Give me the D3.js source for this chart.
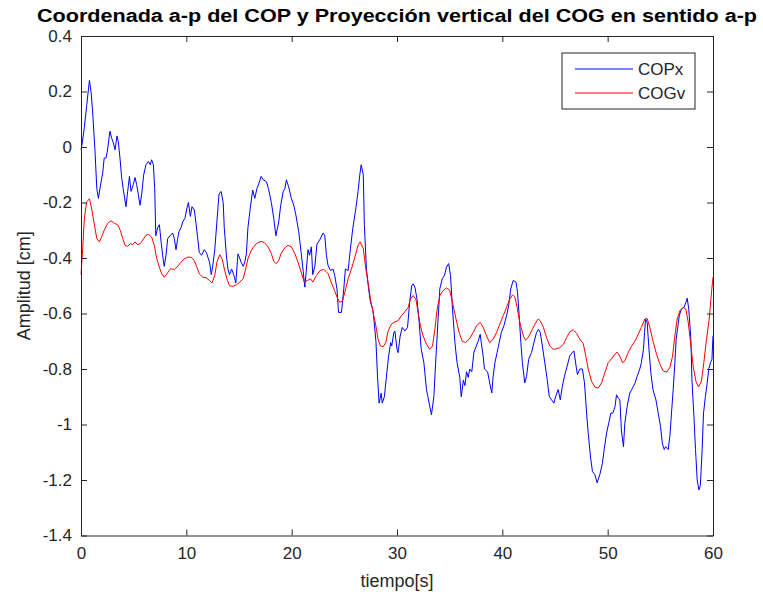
<!DOCTYPE html>
<html>
<head>
<meta charset="utf-8">
<script src="https://cdn.jsdelivr.net/npm/d3@7"></script>
<style>
  body { margin: 0; background: #fff; }
  svg { display: block; font-family: "Liberation Sans", Arial, Helvetica, sans-serif; }
</style>
</head>
<body>
<div id="chart"></div>
<script>
// COPx (blue), [tiempo, amplitud]
var copx = [[0,-0.01],[0.06,0.0],[0.32,0.07],[0.54,0.15],[0.8,0.24],[0.95,0.2],[1.1,0.13],[1.33,-0.015],[1.5,-0.15],[1.65,-0.185],[1.84,-0.14],[2.06,-0.094],[2.2,-0.04],[2.37,-0.04],[2.5,-0.015],[2.75,0.057],[2.9,0.033],[3.07,0.015],[3.23,-0.01],[3.42,0.04],[3.54,0.02],[3.7,-0.04],[3.86,-0.11],[4.0,-0.15],[4.27,-0.215],[4.43,-0.16],[4.6,-0.106],[4.75,-0.16],[4.97,-0.135],[5.13,-0.11],[5.28,-0.135],[5.44,-0.17],[5.6,-0.21],[5.76,-0.17],[5.95,-0.1],[6.17,-0.064],[6.4,-0.052],[6.58,-0.064],[6.7,-0.046],[6.87,-0.064],[7.0,-0.15],[7.1,-0.32],[7.28,-0.29],[7.44,-0.28],[7.6,-0.34],[7.75,-0.39],[7.9,-0.43],[8.07,-0.39],[8.23,-0.33],[8.45,-0.32],[8.7,-0.31],[8.86,-0.33],[9.02,-0.37],[9.18,-0.33],[9.3,-0.305],[9.5,-0.29],[9.65,-0.27],[9.87,-0.257],[10.06,-0.22],[10.2,-0.2],[10.38,-0.25],[10.54,-0.215],[10.76,-0.227],[10.9,-0.27],[11.08,-0.33],[11.23,-0.38],[11.45,-0.39],[11.7,-0.37],[11.9,-0.38],[12.2,-0.415],[12.37,-0.46],[12.5,-0.43],[12.7,-0.37],[12.9,-0.27],[13.1,-0.17],[13.3,-0.16],[13.5,-0.2],[13.6,-0.29],[13.8,-0.39],[13.95,-0.44],[14.1,-0.46],[14.3,-0.44],[14.5,-0.46],[14.7,-0.49],[14.9,-0.385],[15.06,-0.4],[15.2,-0.415],[15.4,-0.43],[15.55,-0.415],[15.7,-0.385],[15.85,-0.29],[16.07,-0.22],[16.3,-0.155],[16.5,-0.185],[16.7,-0.15],[16.9,-0.13],[17.1,-0.106],[17.3,-0.118],[17.6,-0.125],[17.8,-0.15],[18.07,-0.2],[18.3,-0.257],[18.5,-0.32],[18.77,-0.27],[18.96,-0.21],[19.2,-0.16],[19.35,-0.15],[19.5,-0.118],[19.7,-0.142],[19.97,-0.185],[20.2,-0.21],[20.4,-0.245],[20.67,-0.305],[20.9,-0.38],[21.1,-0.45],[21.25,-0.505],[21.4,-0.44],[21.55,-0.37],[21.7,-0.39],[21.87,-0.36],[22.0,-0.46],[22.2,-0.43],[22.4,-0.35],[22.66,-0.335],[22.98,-0.31],[23.14,-0.318],[23.3,-0.39],[23.45,-0.426],[23.68,-0.445],[23.93,-0.44],[24.09,-0.463],[24.3,-0.511],[24.45,-0.596],[24.73,-0.596],[24.95,-0.51],[25.1,-0.44],[25.36,-0.445],[25.58,-0.366],[25.8,-0.294],[26.1,-0.22],[26.3,-0.16],[26.47,-0.1],[26.6,-0.064],[26.8,-0.1],[26.9,-0.28],[27.1,-0.44],[27.3,-0.51],[27.48,-0.56],[27.7,-0.584],[27.83,-0.63],[28.0,-0.7],[28.15,-0.826],[28.3,-0.923],[28.5,-0.887],[28.6,-0.923],[28.8,-0.9],[29.0,-0.826],[29.2,-0.754],[29.4,-0.705],[29.5,-0.717],[29.7,-0.669],[29.8,-0.663],[30.0,-0.729],[30.1,-0.741],[30.3,-0.681],[30.5,-0.65],[30.75,-0.663],[31.0,-0.65],[31.2,-0.56],[31.4,-0.5],[31.53,-0.493],[31.7,-0.505],[31.9,-0.548],[32.1,-0.63],[32.3,-0.729],[32.55,-0.777],[32.8,-0.874],[33.05,-0.923],[33.27,-0.965],[33.5,-0.9],[33.7,-0.754],[33.9,-0.62],[34.07,-0.51],[34.3,-0.475],[34.5,-0.463],[34.7,-0.433],[34.9,-0.42],[35.08,-0.463],[35.27,-0.584],[35.5,-0.705],[35.7,-0.777],[35.96,-0.83],[36.1,-0.9],[36.3,-0.84],[36.45,-0.86],[36.6,-0.81],[36.76,-0.83],[36.9,-0.8],[37.1,-0.81],[37.3,-0.74],[37.5,-0.72],[37.7,-0.7],[37.9,-0.675],[38.0,-0.705],[38.18,-0.753],[38.3,-0.8],[38.6,-0.81],[38.8,-0.85],[39.0,-0.886],[39.13,-0.826],[39.3,-0.777],[39.5,-0.741],[39.7,-0.705],[39.9,-0.669],[40.15,-0.644],[40.4,-0.608],[40.6,-0.572],[40.8,-0.511],[41.03,-0.481],[41.3,-0.487],[41.44,-0.523],[41.6,-0.608],[41.76,-0.705],[41.9,-0.777],[42.13,-0.85],[42.3,-0.826],[42.5,-0.765],[42.77,-0.741],[43.0,-0.705],[43.24,-0.669],[43.43,-0.657],[43.6,-0.669],[43.8,-0.717],[44.03,-0.777],[44.26,-0.838],[44.45,-0.898],[44.67,-0.911],[44.9,-0.923],[45.07,-0.898],[45.3,-0.874],[45.5,-0.911],[45.7,-0.862],[45.9,-0.826],[46.16,-0.789],[46.4,-0.753],[46.63,-0.741],[46.8,-0.735],[47.0,-0.789],[47.13,-0.82],[47.36,-0.8],[47.6,-0.8],[47.8,-0.85],[48.0,-0.959],[48.15,-1.03],[48.38,-1.12],[48.56,-1.17],[48.78,-1.18],[49.0,-1.21],[49.26,-1.18],[49.5,-1.14],[49.67,-1.09],[49.9,-1.03],[50.1,-0.995],[50.3,-0.959],[50.5,-0.959],[50.7,-0.935],[50.84,-0.893],[51.0,-0.905],[51.16,-0.911],[51.3,-1.02],[51.5,-1.08],[51.63,-0.995],[51.85,-0.935],[52.1,-0.887],[52.36,-0.869],[52.6,-0.85],[52.8,-0.826],[53.05,-0.8],[53.2,-0.777],[53.4,-0.729],[53.5,-0.669],[53.6,-0.62],[53.75,-0.632],[53.9,-0.717],[54.1,-0.814],[54.3,-0.874],[54.58,-0.911],[54.8,-0.959],[55.02,-1.008],[55.2,-1.07],[55.37,-1.09],[55.5,-1.08],[55.75,-1.09],[55.9,-1.044],[56.06,-0.959],[56.22,-0.874],[56.38,-0.777],[56.5,-0.693],[56.8,-0.608],[57.0,-0.584],[57.24,-0.578],[57.43,-0.56],[57.55,-0.545],[57.7,-0.584],[57.9,-0.693],[58.0,-0.838],[58.19,-0.97],[58.34,-1.09],[58.5,-1.2],[58.66,-1.236],[58.8,-1.22],[58.97,-1.09],[59.1,-0.959],[59.28,-0.899],[59.45,-0.85],[59.6,-0.8],[59.76,-0.777],[59.9,-0.765],[60.0,-0.68]];

// COGv (red)
var cogv = [[0,-0.46],[0.16,-0.366],[0.32,-0.257],[0.54,-0.197],[0.8,-0.187],[1.0,-0.22],[1.27,-0.28],[1.5,-0.33],[1.74,-0.342],[1.96,-0.324],[2.2,-0.3],[2.53,-0.275],[2.85,-0.266],[3.16,-0.275],[3.48,-0.28],[3.73,-0.3],[3.96,-0.33],[4.18,-0.354],[4.43,-0.358],[4.68,-0.348],[4.9,-0.352],[5.13,-0.342],[5.38,-0.352],[5.63,-0.348],[5.85,-0.336],[6.17,-0.318],[6.42,-0.315],[6.7,-0.324],[6.96,-0.354],[7.18,-0.4],[7.44,-0.433],[7.66,-0.457],[7.9,-0.469],[8.16,-0.457],[8.48,-0.439],[8.86,-0.441],[9.18,-0.43],[9.5,-0.415],[9.8,-0.403],[10.13,-0.397],[10.44,-0.397],[10.76,-0.409],[11.0,-0.433],[11.23,-0.457],[11.55,-0.469],[11.87,-0.471],[12.2,-0.481],[12.43,-0.49],[12.7,-0.463],[12.9,-0.415],[13.17,-0.388],[13.4,-0.403],[13.64,-0.445],[13.9,-0.481],[14.1,-0.5],[14.43,-0.502],[14.75,-0.497],[15.06,-0.487],[15.4,-0.475],[15.6,-0.445],[15.85,-0.403],[16.17,-0.372],[16.5,-0.354],[16.8,-0.344],[17.1,-0.34],[17.4,-0.344],[17.76,-0.36],[18.07,-0.384],[18.3,-0.412],[18.55,-0.42],[18.77,-0.409],[19.0,-0.384],[19.33,-0.364],[19.65,-0.354],[19.97,-0.36],[20.3,-0.384],[20.6,-0.415],[20.9,-0.451],[21.2,-0.487],[21.5,-0.481],[21.8,-0.475],[22.0,-0.487],[22.35,-0.463],[22.7,-0.445],[23.05,-0.441],[23.46,-0.457],[23.78,-0.49],[24.1,-0.52],[24.35,-0.545],[24.57,-0.56],[24.83,-0.554],[25.05,-0.523],[25.36,-0.475],[25.68,-0.439],[26.0,-0.397],[26.3,-0.354],[26.5,-0.342],[26.8,-0.366],[27.04,-0.439],[27.3,-0.499],[27.48,-0.548],[27.73,-0.596],[28.0,-0.645],[28.2,-0.693],[28.43,-0.717],[28.68,-0.72],[28.93,-0.705],[29.16,-0.663],[29.47,-0.638],[29.8,-0.63],[30.1,-0.626],[30.42,-0.608],[30.74,-0.594],[31.06,-0.578],[31.28,-0.548],[31.53,-0.535],[31.79,-0.548],[32.0,-0.596],[32.23,-0.645],[32.48,-0.681],[32.8,-0.711],[33.1,-0.729],[33.37,-0.717],[33.6,-0.657],[33.81,-0.584],[34.07,-0.535],[34.38,-0.517],[34.7,-0.508],[35.0,-0.517],[35.27,-0.56],[35.6,-0.62],[35.9,-0.669],[36.2,-0.7],[36.5,-0.705],[36.85,-0.693],[37.23,-0.669],[37.55,-0.644],[37.9,-0.632],[38.18,-0.65],[38.5,-0.681],[38.8,-0.705],[39.13,-0.693],[39.45,-0.669],[39.76,-0.638],[40.08,-0.608],[40.4,-0.578],[40.7,-0.548],[40.97,-0.533],[41.2,-0.541],[41.4,-0.578],[41.66,-0.632],[42.0,-0.681],[42.2,-0.696],[42.45,-0.687],[42.77,-0.663],[43.1,-0.638],[43.4,-0.62],[43.6,-0.626],[43.9,-0.65],[44.2,-0.687],[44.5,-0.717],[44.83,-0.729],[45.15,-0.727],[45.46,-0.723],[45.8,-0.711],[46.1,-0.687],[46.4,-0.666],[46.73,-0.659],[47.05,-0.671],[47.36,-0.693],[47.68,-0.708],[47.93,-0.754],[48.15,-0.8],[48.47,-0.844],[48.78,-0.865],[49.1,-0.869],[49.42,-0.85],[49.73,-0.814],[50.05,-0.777],[50.37,-0.763],[50.68,-0.747],[50.9,-0.739],[51.16,-0.754],[51.41,-0.777],[51.63,-0.771],[51.95,-0.741],[52.27,-0.717],[52.6,-0.699],[52.9,-0.675],[53.2,-0.65],[53.53,-0.62],[53.75,-0.618],[54.0,-0.65],[54.3,-0.699],[54.64,-0.747],[54.96,-0.783],[55.27,-0.807],[55.6,-0.811],[55.9,-0.795],[56.16,-0.754],[56.38,-0.681],[56.6,-0.62],[56.86,-0.59],[57.17,-0.578],[57.43,-0.584],[57.65,-0.632],[57.87,-0.705],[58.12,-0.79],[58.38,-0.844],[58.63,-0.865],[58.9,-0.844],[59.13,-0.777],[59.38,-0.693],[59.64,-0.62],[59.86,-0.523],[60.0,-0.469]];

var xTicks = [0, 10, 20, 30, 40, 50, 60];
var yTicks = [0.4, 0.2, 0, -0.2, -0.4, -0.6, -0.8, -1, -1.2, -1.4];
var seriesNames = ["COPx", "COGv"];
var seriesColors = ["#0000ff", "#ff0000"];

var title = "Coordenada a-p del COP y Proyección vertical del COG en sentido a-p";
var xLabel = "tiempo[s]", yLabel = "Amplitud [cm]";

var W = 763, H = 599;
var margin = {top: 36, right: 50, bottom: 63.5, left: 81};
var width = W - margin.left - margin.right,
    height = H - margin.top - margin.bottom;
var axisColor = "#262626";

var svg = d3.select("#chart").append("svg")
  .attr("width", W)
  .attr("height", H);

svg.append("rect").attr("width", W).attr("height", H).attr("fill", "#fff");

var g = svg.append("g")
  .attr("transform", "translate(" + margin.left + "," + margin.top + ")");

var x = d3.scaleLinear().domain([0, 60]).range([0, width]);
var y = d3.scaleLinear().domain([-1.4, 0.4]).range([height, 0]);

function styleAxis(sel, fontSize){
  sel.select(".domain").attr("stroke", axisColor).attr("stroke-width", 1);
  sel.selectAll(".tick line").attr("stroke", axisColor);
  sel.selectAll(".tick text")
    .attr("fill", axisColor)
    .style("font-size", fontSize + "px");
}

// lines
var line = d3.line()
  .x(function(d){ return x(d[0]); })
  .y(function(d){ return y(d[1]); });

[copx, cogv].forEach(function(data, i){
  g.append("path")
    .datum(data)
    .attr("fill", "none")
    .attr("stroke", seriesColors[i])
    .attr("stroke-width", 1)
    .attr("stroke-linejoin", "round")
    .attr("d", line);
});

//Axes (ticks pointing inward, box on)
var fmt = function(d){ return String(d); };

g.append("g")
  .attr("transform", "translate(0," + height + ")")
  .call(d3.axisBottom(x).tickValues(xTicks).tickFormat(fmt).tickSizeInner(-6).tickSizeOuter(0).tickPadding(11))
  .call(styleAxis, 17);

g.append("g")
  .call(d3.axisLeft(y).tickValues(yTicks).tickFormat(fmt).tickSizeInner(-6).tickSizeOuter(0).tickPadding(9))
  .call(styleAxis, 17);

g.append("g")
  .call(d3.axisTop(x).tickValues(xTicks).tickFormat("").tickSizeInner(-6).tickSizeOuter(0))
  .call(styleAxis, 17);

g.append("g")
  .attr("transform", "translate(" + width + ",0)")
  .call(d3.axisRight(y).tickValues(yTicks).tickFormat("").tickSizeInner(-6).tickSizeOuter(0))
  .call(styleAxis, 17);

// Title
svg.append("text")
  .attr("x", margin.left + width / 2)
  .attr("y", 22)
  .attr("text-anchor", "middle")
  .attr("textLength", 720)
  .attr("lengthAdjust", "spacingAndGlyphs")
  .style("font-size", "18px")
  .style("font-weight", "bold")
  .attr("fill", "#000")
  .text(title);

// Axis labels
svg.append("text")
  .attr("x", margin.left + width / 2)
  .attr("y", 587)
  .attr("text-anchor", "middle")
  .style("font-size", "18px")
  .attr("fill", axisColor)
  .text(xLabel);

svg.append("text")
  .attr("transform", "translate(30," + (margin.top + height / 2) + ") rotate(-90)")
  .attr("text-anchor", "middle")
  .style("font-size", "18px")
  .attr("fill", axisColor)
  .text(yLabel);

// Legend
var legend = svg.append("g").attr("transform", "translate(562,53)");
legend.append("rect")
  .attr("width", 133).attr("height", 56)
  .attr("fill", "#fff")
  .attr("stroke", axisColor)
  .attr("stroke-width", 1);

seriesNames.forEach(function(name, i){
  var ly = 16 + i * 24;
  legend.append("line")
    .attr("x1", 13).attr("x2", 71)
    .attr("y1", ly).attr("y2", ly)
    .attr("stroke", seriesColors[i])
    .attr("stroke-width", 1);
  legend.append("text")
    .attr("x", 76).attr("y", ly + 6)
    .style("font-size", "17px")
    .attr("fill", axisColor)
    .text(name);
});
</script>
</body>
</html>
